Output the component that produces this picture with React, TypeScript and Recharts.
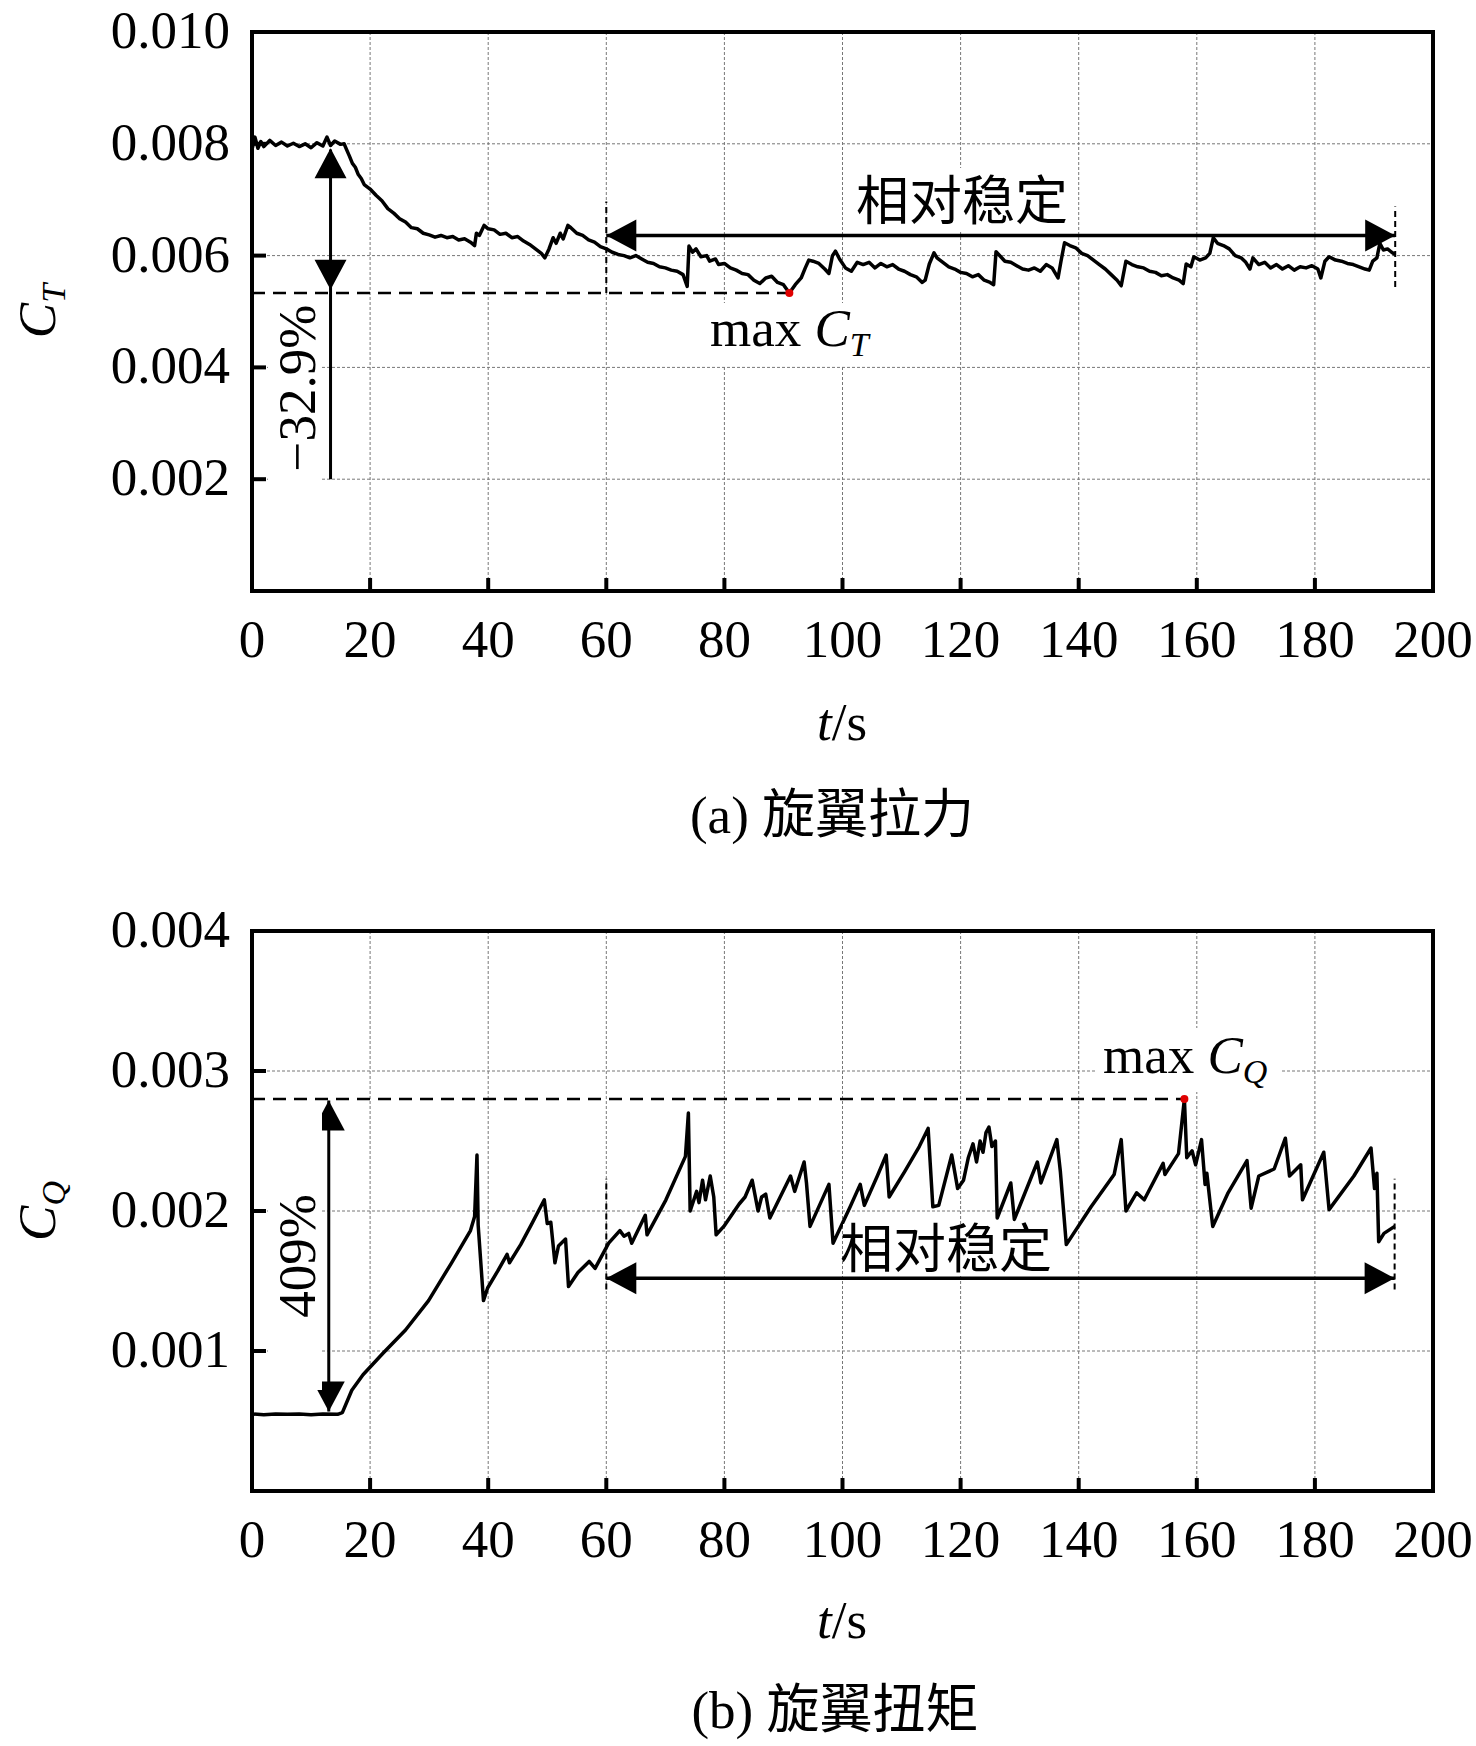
import {
  CartesianGrid,
  Line,
  LineChart,
  ReferenceArea,
  ReferenceDot,
  ReferenceLine,
  XAxis,
  YAxis,
} from 'recharts'

const SERIF = '"Liberation Serif", "Times New Roman", serif'
const MIXED = '"Liberation Serif", "Noto Sans CJK SC", serif'
const FS = 53

const xTicks = [0, 20, 40, 60, 80, 100, 120, 140, 160, 180, 200]
const ctTicks = [0.002, 0.004, 0.006, 0.008, 0.01]
const cqTicks = [0.001, 0.002, 0.003, 0.004]

// (a) rotor thrust coefficient C_T vs t
const ctTime = [
  0, 0.5, 1, 1.5, 2, 3, 4, 5, 6, 7, 8, 9, 10, 11, 12, 12.7, 13.3, 14, 15, 15.6,
  16, 16.5, 17, 17.5, 18, 18.5, 19, 20, 21, 22, 23, 24, 25, 26, 27, 28, 29, 30,
  31, 32, 33, 34, 35, 36, 37, 37.7, 38, 38.5, 39.3, 40, 41, 42, 43, 44, 45, 46,
  47, 48, 49, 49.6, 50.3, 51, 51.5, 52.2, 52.7, 53.5, 54, 55, 56, 57, 58, 59,
  60, 61, 62, 63, 64, 65, 66, 67, 68, 69, 70, 71, 72, 73, 73.7, 74, 74.6, 75.2,
  76, 77, 77.5, 78.5, 79, 80, 81, 82, 83, 84, 85, 86, 87, 88, 89, 90, 91, 92,
  93, 93.7, 94.3, 95, 96, 97, 97.7, 98.3, 98.8, 99.5, 100.5, 101.5, 102.5,
  103.5, 104.5, 105.5, 106.5, 107.5, 108.5, 109.5, 110.5, 111.5, 112.5, 113.5,
  114, 114.7, 115.5, 116, 117, 118, 119, 120, 121, 122, 123, 124, 125, 125.6,
  126, 126.8, 127.5, 128.5, 129.5, 130.5, 131.5, 132.5, 133.5, 134.5, 135.5,
  136.5, 137, 137.6, 138.5, 139.5, 140.5, 141.5, 142.5, 143.5, 144.5, 145.5,
  146.5, 147.2, 148, 149, 150, 151, 152, 153, 154, 155, 156, 157, 157.7, 158.2,
  159, 159.5, 160.5, 161.5, 162.2, 162.8, 163.5, 164.5, 165.5, 166.5, 167.5,
  168.3, 169, 169.5, 170.5, 171.5, 172.5, 173.5, 174.5, 175.5, 176.5, 177.5,
  178.5, 179.5, 180.5, 181, 181.7, 182.4, 183.5, 184.5, 185.5, 186.5, 187.5,
  188.5, 189.2, 189.8, 190.5, 191, 191.6, 192.3, 193, 193.6,
]
const ctValue = [
  0.0079, 0.00812, 0.00792, 0.00804, 0.00795, 0.00806, 0.00797, 0.00803,
  0.00796, 0.00801, 0.00795, 0.008, 0.00793, 0.00802, 0.00796, 0.00812,
  0.00797, 0.00805, 0.00799, 0.008, 0.0079, 0.00778, 0.00765, 0.00758, 0.00745,
  0.00738, 0.00727, 0.00719, 0.00708, 0.00698, 0.00684, 0.00676, 0.00666,
  0.0066, 0.0065, 0.00648, 0.0064, 0.00637, 0.00633, 0.00636, 0.00632, 0.00634,
  0.00628, 0.0063, 0.00624, 0.00618, 0.0064, 0.00636, 0.00654, 0.00648,
  0.00646, 0.00638, 0.0064, 0.00632, 0.00634, 0.00626, 0.0062, 0.00612,
  0.00604, 0.00596, 0.00612, 0.00632, 0.00622, 0.0064, 0.0063, 0.00654,
  0.0065, 0.0064, 0.00636, 0.00628, 0.00624, 0.00616, 0.00612, 0.00606,
  0.00602, 0.006, 0.00596, 0.006, 0.00594, 0.00588, 0.00586, 0.0058, 0.00578,
  0.00574, 0.00572, 0.00566, 0.00545, 0.00617, 0.00606, 0.00612, 0.00598,
  0.006, 0.0059, 0.00594, 0.00584, 0.00586, 0.00578, 0.00574, 0.00568, 0.00566,
  0.00556, 0.0055, 0.0056, 0.00563, 0.00552, 0.00548, 0.00533, 0.00548, 0.0056,
  0.00578, 0.00592, 0.0059, 0.00586, 0.00576, 0.00568, 0.006, 0.00608, 0.00594,
  0.00578, 0.00572, 0.00588, 0.00584, 0.00588, 0.00578, 0.00586, 0.0058,
  0.00584, 0.00576, 0.00572, 0.00566, 0.00562, 0.00552, 0.00556, 0.00585,
  0.00605, 0.00596, 0.00588, 0.0058, 0.00576, 0.0057, 0.00568, 0.00562,
  0.00566, 0.00556, 0.00552, 0.00548, 0.00607, 0.00598, 0.0059, 0.00588,
  0.00582, 0.00576, 0.00574, 0.00578, 0.00572, 0.00584, 0.00578, 0.0056,
  0.0059, 0.00623, 0.00618, 0.00614, 0.00604, 0.006, 0.00592, 0.00584, 0.00576,
  0.00566, 0.00556, 0.00546, 0.0059, 0.00584, 0.0058, 0.00578, 0.00572, 0.0057,
  0.00564, 0.00566, 0.0056, 0.00556, 0.0055, 0.00585, 0.0058, 0.00598, 0.00592,
  0.00596, 0.00604, 0.00632, 0.00622, 0.00618, 0.00612, 0.006, 0.00596,
  0.00588, 0.00576, 0.00596, 0.00584, 0.00588, 0.00578, 0.00584, 0.00576,
  0.00582, 0.00574, 0.0058, 0.00578, 0.00582, 0.00576, 0.0056, 0.0059, 0.00598,
  0.00592, 0.0059, 0.00586, 0.00584, 0.0058, 0.00576, 0.00574, 0.0059, 0.00596,
  0.00622, 0.0061, 0.00612, 0.00606, 0.00602,
]

// (b) rotor torque coefficient C_Q vs t
const cqTime = [
  0, 2, 4, 6, 8, 10, 12, 14.5, 15.3, 16.9, 18.8, 22.1, 26, 29.9, 33.8, 37,
  37.7, 38.1, 38.3, 39.2, 39.9, 41.6, 43.2, 43.6, 45.5, 47.4, 49.5, 50, 50.6,
  51.3, 51.9, 53.1, 53.6, 55.2, 57.1, 58.1, 60.4, 62.3, 63, 63.8, 64.3, 66.6,
  66.9, 70.1, 73.4, 73.9, 74.2, 75.3, 75.7, 76.3, 76.8, 77.6, 78.2, 78.6, 79.9,
  82.5, 83.5, 84.7, 85.7, 86.3, 87, 87.7, 91.2, 91.9, 93.5, 93.9, 94.5, 97.7,
  98.4, 101.3, 103, 103.7, 105.9, 107.4, 107.9, 110.5, 113, 114.5, 115.3, 116.3,
  118.5, 119.5, 120.5, 121.3, 122.1, 122.7, 123.3, 123.8, 124.3, 124.8, 125.3,
  125.9, 126.2, 128.5, 129.1, 133, 133.6, 136.3, 136.9, 137.9, 142.1, 146,
  147.2, 148, 149.8, 151.1, 154.3, 154.6, 156.9, 157.9, 158.3, 159.2, 159.8,
  160.8, 161.4, 161.7, 162.7, 165.3, 168.5, 169.2, 170.5, 173.1, 175, 175.7,
  177.6, 177.9, 181.5, 182.4, 186.6, 189.5, 190.1, 190.5, 190.8, 191.7, 193.5,
]
const cqValue = [
  0.00055, 0.000545, 0.00055, 0.000548, 0.00055, 0.000545, 0.00055, 0.000548,
  0.00056, 0.00072, 0.00083, 0.00098, 0.00115, 0.00136, 0.00163, 0.00186,
  0.00196, 0.0024, 0.0019, 0.00136, 0.00145, 0.00157, 0.00169, 0.00163,
  0.00176, 0.00191, 0.00208, 0.00191, 0.00192, 0.00163, 0.00175, 0.0018,
  0.00146, 0.00156, 0.00164, 0.00159, 0.00177, 0.00186, 0.00182, 0.00184,
  0.00177, 0.00197, 0.00183, 0.00208, 0.00239, 0.0027, 0.002, 0.00214,
  0.00206, 0.00222, 0.00208, 0.00225, 0.0021, 0.00183, 0.00189, 0.00205,
  0.0021, 0.00222, 0.002, 0.0021, 0.00212, 0.00195, 0.00225, 0.00214, 0.00235,
  0.0022, 0.00189, 0.00219, 0.00177, 0.00203, 0.00219, 0.00204, 0.00225,
  0.0024, 0.0021, 0.00228, 0.00246, 0.00259, 0.00203, 0.00204, 0.0024,
  0.00216, 0.00222, 0.00238, 0.00248, 0.00235, 0.0025, 0.00242, 0.00256,
  0.0026, 0.00246, 0.0025, 0.00195, 0.0022, 0.00194, 0.00235, 0.0022, 0.00251,
  0.00228, 0.00176, 0.00203, 0.00226, 0.00251, 0.002, 0.00213, 0.00208,
  0.00234, 0.00226, 0.00241, 0.0028, 0.00238, 0.00243, 0.00233, 0.00251,
  0.00219, 0.00227, 0.00189, 0.00213, 0.00236, 0.00202, 0.00225, 0.0023,
  0.00252, 0.00225, 0.00233, 0.00208, 0.00242, 0.00201, 0.00225, 0.00245,
  0.00216, 0.00227, 0.00178, 0.00184, 0.00189,
]

const ctData = ctTime.map((t, i) => ({ t, v: ctValue[i] }))
const cqData = cqTime.map((t, i) => ({ t, v: cqValue[i] }))

// annotated extremes and steady range
const ctMin = { t: 91, v: 0.00533 }
const cqMax = { t: 157.9, v: 0.0028 }
const steadyStart = 60
const steadyEnd = 193.6

const XTick = ({ x, y, payload }: any) => (
  <g>
    <line x1={x} y1={y} x2={x} y2={y - 13} stroke="#000" strokeWidth={4} />
    <text x={x} y={y + 66} textAnchor="middle" fontFamily={SERIF} fontSize={FS} fill="#000">
      {payload.value}
    </text>
  </g>
)

const YTick = ({ x, y, payload }: any) => (
  <g>
    <line x1={x} y1={y} x2={x + 14} y2={y} stroke="#000" strokeWidth={4} />
    <text x={x - 22} y={y + 16} textAnchor="end" fontFamily={SERIF} fontSize={FS} fill="#000">
      {Number(payload.value).toFixed(3)}
    </text>
  </g>
)

const head = (dir: 'up' | 'down' | 'left' | 'right') => (p: any) => {
  const { cx, cy } = p
  let pts = ''
  if (dir === 'up') pts = `${cx},${cy} ${cx - 16},${cy + 30} ${cx + 16},${cy + 30}`
  if (dir === 'down') pts = `${cx},${cy} ${cx - 16},${cy - 30} ${cx + 16},${cy - 30}`
  if (dir === 'left') pts = `${cx},${cy} ${cx + 30},${cy - 16} ${cx + 30},${cy + 16}`
  if (dir === 'right') pts = `${cx},${cy} ${cx - 30},${cy - 16} ${cx - 30},${cy + 16}`
  return <polygon points={pts} fill="#000" />
}

const redDot = (p: any) => <circle cx={p.cx} cy={p.cy} r={4} fill="#e00000" />

const MARGIN = { top: 32, right: 43, bottom: 9, left: 132 }

function Labels() {
  return (
    <svg
      width={1476}
      height={1746}
      style={{ position: 'absolute', left: 0, top: 0, pointerEvents: 'none' }}
    >
      <g fontFamily={MIXED} fontSize={FS} fill="#000">
        {/* (a) */}
        <rect x={268} y={297} width={54} height={186} fill="#fff" />
        <rect x={850} y={168} width={226} height={62} fill="#fff" />
        <rect x={705} y={303} width={178} height={62} fill="#fff" />
        <text x={55} y={311} transform="rotate(-90 55 311)" textAnchor="middle" fontFamily={SERIF} fontStyle="italic">
          C<tspan fontSize={34} dy={10}>T</tspan>
        </text>
        <text x={842} y={740} textAnchor="middle" fontFamily={SERIF}>
          <tspan fontStyle="italic">t</tspan>/s
        </text>
        <text x={832} y={833} textAnchor="middle">(a) 旋翼拉力</text>
        <text x={315} y={388} transform="rotate(-90 315 388)" textAnchor="middle" fontFamily={SERIF}>
          −32.9%
        </text>
        <text x={962} y={220} textAnchor="middle">相对稳定</text>
        <text x={710} y={346} fontFamily={SERIF}>
          max <tspan fontStyle="italic">C</tspan>
          <tspan fontStyle="italic" fontSize={34} dy={10}>T</tspan>
        </text>

        {/* (b) */}
        <rect x={268} y={1110} width={54} height={280} fill="#fff" />
        <rect x={843} y={1224} width={216} height={50} fill="#fff" />
        <rect x={1096} y={1028} width={184} height={64} fill="#fff" />
        <text x={55} y={1211} transform="rotate(-90 55 1211)" textAnchor="middle" fontFamily={SERIF} fontStyle="italic">
          C<tspan fontSize={34} dy={10}>Q</tspan>
        </text>
        <text x={842} y={1638} textAnchor="middle" fontFamily={SERIF}>
          <tspan fontStyle="italic">t</tspan>/s
        </text>
        <text x={835} y={1728} textAnchor="middle">(b) 旋翼扭矩</text>
        <text x={315} y={1256} transform="rotate(-90 315 1256)" textAnchor="middle" fontFamily={SERIF}>
          409%
        </text>
        <text x={946} y={1268} textAnchor="middle">相对稳定</text>
        <text x={1103} y={1073} fontFamily={SERIF}>
          max <tspan fontStyle="italic">C</tspan>
          <tspan fontStyle="italic" fontSize={34} dy={10}>Q</tspan>
        </text>
      </g>
    </svg>
  )
}

export default function App() {
  return (
    <div style={{ position: 'absolute', left: 0, top: 0, width: 1476, height: 1746, background: '#fff' }}>
      <div style={{ position: 'absolute', left: 0, top: 0 }}>
        <LineChart width={1476} height={700} data={ctData} margin={MARGIN}>
          <CartesianGrid stroke="#777" strokeDasharray="3 2" strokeWidth={1} />
          <XAxis
            dataKey="t"
            type="number"
            domain={[0, 200]}
            ticks={xTicks}
            height={100}
            tickSize={0}
            tickMargin={0}
            axisLine={false}
            tickLine={false}
            tick={XTick}
            interval={0}
          />
          <YAxis
            type="number"
            domain={[0, 0.01]}
            ticks={ctTicks}
            width={120}
            tickSize={0}
            tickMargin={0}
            axisLine={false}
            tickLine={false}
            tick={YTick}
            interval={0}
          />
          <Line
            dataKey="v"
            type="linear"
            stroke="#000"
            strokeWidth={3.5}
            strokeLinejoin="round"
            dot={false}
            isAnimationActive={false}
          />
          <ReferenceLine
            segment={[{ x: 0, y: ctMin.v }, { x: ctMin.t, y: ctMin.v }]}
            stroke="#000"
            strokeWidth={2.5}
            strokeDasharray="13 8"
          />
          <ReferenceLine
            segment={[{ x: 13.3, y: 0.002 }, { x: 13.3, y: 0.0079 }]}
            stroke="#000"
            strokeWidth={3}
          />
          <ReferenceLine
            segment={[{ x: steadyStart, y: 0.00636 }, { x: steadyEnd, y: 0.00636 }]}
            stroke="#000"
            strokeWidth={3.5}
          />
          <ReferenceLine
            segment={[{ x: steadyStart, y: 0.00533 }, { x: steadyStart, y: 0.00697 }]}
            stroke="#000"
            strokeWidth={2}
            strokeDasharray="6 4"
          />
          <ReferenceLine
            segment={[{ x: steadyEnd, y: 0.00544 }, { x: steadyEnd, y: 0.00688 }]}
            stroke="#000"
            strokeWidth={2}
            strokeDasharray="6 4"
          />
          <ReferenceDot x={13.3} y={0.00792} r={1} shape={head('up')} />
          <ReferenceDot x={13.3} y={0.00539} r={1} shape={head('down')} />
          <ReferenceDot x={steadyStart} y={0.00636} r={1} shape={head('left')} />
          <ReferenceDot x={steadyEnd} y={0.00636} r={1} shape={head('right')} />
          <ReferenceDot x={ctMin.t} y={ctMin.v} r={4} shape={redDot} />
          <ReferenceArea
            x1={0}
            x2={200}
            y1={0}
            y2={0.01}
            fill="none"
            stroke="#000"
            strokeWidth={4}
            ifOverflow="visible"
          />
        </LineChart>
      </div>

      <div style={{ position: 'absolute', left: 0, top: 899 }}>
        <LineChart width={1476} height={701} data={cqData} margin={MARGIN}>
          <CartesianGrid stroke="#777" strokeDasharray="3 2" strokeWidth={1} />
          <XAxis
            dataKey="t"
            type="number"
            domain={[0, 200]}
            ticks={xTicks}
            height={100}
            tickSize={0}
            tickMargin={0}
            axisLine={false}
            tickLine={false}
            tick={XTick}
            interval={0}
          />
          <YAxis
            type="number"
            domain={[0, 0.004]}
            ticks={cqTicks}
            width={120}
            tickSize={0}
            tickMargin={0}
            axisLine={false}
            tickLine={false}
            tick={YTick}
            interval={0}
          />
          <Line
            dataKey="v"
            type="linear"
            stroke="#000"
            strokeWidth={3.5}
            strokeLinejoin="round"
            dot={false}
            isAnimationActive={false}
          />
          <ReferenceLine
            segment={[{ x: 0, y: cqMax.v }, { x: cqMax.t, y: cqMax.v }]}
            stroke="#000"
            strokeWidth={2.5}
            strokeDasharray="13 8"
          />
          <ReferenceLine
            segment={[{ x: 13, y: 0.000567 }, { x: 13, y: 0.00279 }]}
            stroke="#000"
            strokeWidth={3}
          />
          <ReferenceLine
            segment={[{ x: steadyStart, y: 0.00152 }, { x: 193.5, y: 0.00152 }]}
            stroke="#000"
            strokeWidth={3.5}
          />
          <ReferenceLine
            segment={[{ x: steadyStart, y: 0.00144 }, { x: steadyStart, y: 0.00223 }]}
            stroke="#000"
            strokeWidth={2}
            strokeDasharray="6 4"
          />
          <ReferenceLine
            segment={[{ x: 193.5, y: 0.00144 }, { x: 193.5, y: 0.00223 }]}
            stroke="#000"
            strokeWidth={2}
            strokeDasharray="6 4"
          />
          <ReferenceDot x={13} y={0.00279} r={1} shape={head('up')} />
          <ReferenceDot x={13} y={0.000567} r={1} shape={head('down')} />
          <ReferenceDot x={steadyStart} y={0.00152} r={1} shape={head('left')} />
          <ReferenceDot x={193.5} y={0.00152} r={1} shape={head('right')} />
          <ReferenceDot x={cqMax.t} y={cqMax.v} r={4} shape={redDot} />
          <ReferenceArea
            x1={0}
            x2={200}
            y1={0}
            y2={0.004}
            fill="none"
            stroke="#000"
            strokeWidth={4}
            ifOverflow="visible"
          />
        </LineChart>
      </div>

      <Labels />
    </div>
  )
}
